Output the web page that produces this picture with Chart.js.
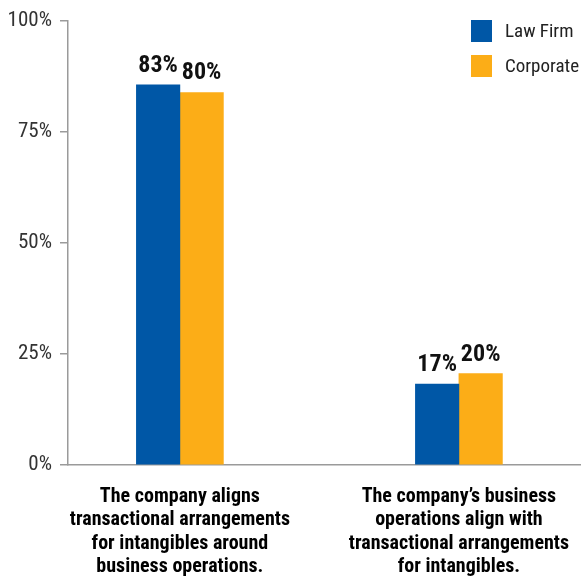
<!DOCTYPE html>
<html>
<head>
<meta charset="utf-8">
<script src="https://cdn.jsdelivr.net/npm/chart.js@4.4.0/dist/chart.umd.min.js"></script>
<style>
  html, body { margin: 0; padding: 0; background: #fff; }
  #wrap { position: relative; width: 582px; height: 577px; }
  #legend { position: absolute; left: 471px; top: 20px; font-family: "Roboto Condensed", sans-serif; font-size: 19px; color: #222; }
  .item { position: relative; height: 35px; }
  .swatch { position: absolute; left: 0; top: 0; width: 21px; height: 22px; }
  .label { position: absolute; left: 34px; top: 0px; line-height: 22px; white-space: nowrap; }
</style>
</head>
<body>
<div id="wrap">
  <canvas id="chart" width="582" height="577"></canvas>
  <div id="legend"></div>
</div>
<script>
const categories = [
  ["The company aligns", "transactional arrangements", "for intangibles around", "business operations."],
  ["The company\u2019s business", "operations align with", "transactional arrangements", "for intangibles."]
];
const seriesNames = ["Law Firm", "Corporate"];
const seriesColors = ["#0057a6", "#fcad17"];
// bar heights as drawn in the picture
const lawFirmBars = [85.6, 18.2];
const corporateBars = [83.9, 20.6];
// printed value labels
const lawFirmLabels = ["83%", "17%"];
const corporateLabels = ["80%", "20%"];
const yTicks = [0, 25, 50, 75, 100];

const FONT = "'Roboto Condensed', sans-serif";

// ----- value labels above bars -----
const valueLabels = {
  id: "valueLabels",
  afterDatasetsDraw(chart) {
    const ctx = chart.ctx;
    const texts = [lawFirmLabels, corporateLabels];
    ctx.save();
    ctx.font = "bold 24px " + FONT;
    ctx.fillStyle = "#111";
    ctx.textAlign = "center";
    ctx.textBaseline = "alphabetic";
    chart.data.datasets.forEach((ds, di) => {
      chart.getDatasetMeta(di).data.forEach((bar, i) => {
        ctx.fillText(texts[di][i], bar.x, bar.y - 13);
      });
    });
    ctx.restore();
  }
};

new Chart(document.getElementById("chart").getContext("2d"), {
  type: "bar",
  data: {
    labels: categories,
    datasets: [
      { label: seriesNames[0], data: lawFirmBars, backgroundColor: seriesColors[0] },
      { label: seriesNames[1], data: corporateBars, backgroundColor: seriesColors[1] }
    ]
  },
  options: {
    responsive: false,
    animation: false,
    events: [],
    layout: { padding: { top: 21, right: 2, left: 0, bottom: 0 } },
    datasets: { bar: { barThickness: 43.5 } },
    plugins: { legend: { display: false }, tooltip: { enabled: false } },
    scales: {
      x: {
        offset: false,
        grid: { display: false },
        border: { display: true, color: "#9a9a9a", width: 1.5 },
        ticks: {
          color: "#000",
          font: { family: FONT, size: 20, weight: "bold", lineHeight: 1.17 },
          padding: 12,
          autoSkip: false,
          maxRotation: 0
        },
        afterBuildTicks(scale) {
          // place the two groups where the picture has them
          scale._startValue = -0.401;
          scale._valueRange = 1.835;
        },
        afterFit(scale) {
          scale.height = 112;
          scale.paddingLeft = 0;
          scale.paddingRight = 0;
        }
      },
      y: {
        min: 0,
        max: 100,
        afterBuildTicks(scale) { scale.ticks = yTicks.map(v => ({ value: v })); },
        grid: { drawOnChartArea: false, drawTicks: true, tickLength: 8, color: "#9a9a9a", lineWidth: 1.5 },
        border: { display: true, color: "#9a9a9a", width: 1.5 },
        ticks: {
          color: "#333",
          font: { family: FONT, size: 21 },
          padding: 8,
          callback: v => v + "%"
        },
        afterFit(scale) { scale.width = 68; }
      }
    }
  },
  plugins: [valueLabels]
});

// ----- legend -----
const legendEl = document.getElementById("legend");
seriesNames.forEach((name, i) => {
  const item = document.createElement("div");
  item.className = "item";
  item.innerHTML = `<span class="swatch" style="background:${seriesColors[i]}"></span><span class="label">${name}</span>`;
  legendEl.appendChild(item);
});
</script>
</body>
</html>
